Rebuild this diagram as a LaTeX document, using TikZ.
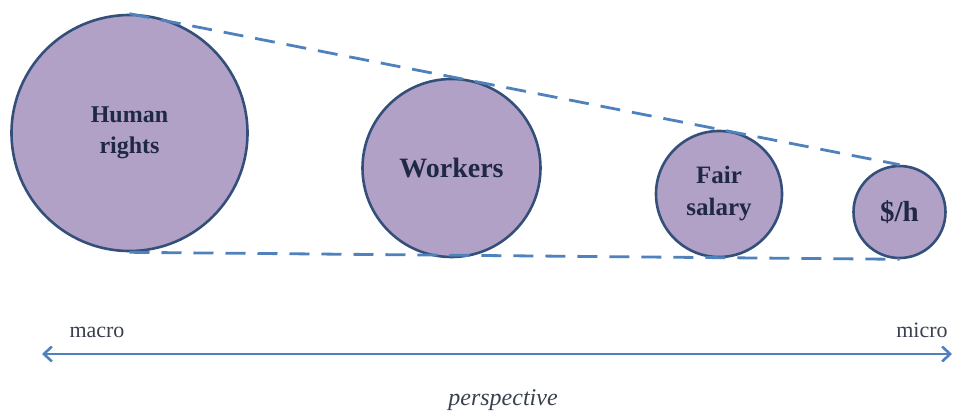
\documentclass[tikz,border=0pt]{standalone}
\usepackage{fontspec}
\setmainfont{Liberation Serif}
\usetikzlibrary{arrows.meta}
\definecolor{bubblefill}{HTML}{B2A1C7}
\definecolor{bubbleedge}{HTML}{34507A}
\definecolor{bubbletext}{HTML}{1F2846}
\definecolor{linkblue}{HTML}{4F81BD}
\definecolor{labelgrey}{HTML}{3A4050}
\tikzset{
  bubble/.style={circle, fill=bubblefill, draw=bubbleedge, line width=2.6pt, inner sep=0pt,
    text=bubbletext, font=\bfseries, align=center},
  tangent/.style={draw=linkblue, line width=2.8pt, dash pattern=on 20pt off 12pt},
  axislabel/.style={text=labelgrey, inner sep=0pt, anchor=base},
  axis/.style={draw=linkblue, line width=2.6pt, {Straight Barb[length=8pt,width=15pt,line width=2.6pt]}-{Straight Barb[length=8pt,width=15pt,line width=2.6pt]}}
}
\begin{document}
\begin{tikzpicture}[x=1pt,y=-1pt]
\useasboundingbox (0,0) rectangle (956,418);
\node[bubble, minimum size=236pt, font=\bfseries\fontsize{24}{31}\selectfont] (hr) at (129.5,133) {Human\\rights};
\node[bubble, minimum size=178pt, font=\bfseries\fontsize{28}{32}\selectfont] (wk) at (451.5,168) {Workers};
\node[bubble, minimum size=126pt, font=\bfseries\fontsize{25}{32}\selectfont] (fs) at (719,194) {Fair\\salary};
\node[bubble, minimum size=92pt, font=\bfseries\fontsize{29}{32}\selectfont] (dh) at (899.5,212) {\$/h};
\draw[tangent] (hr.north) -- (dh.north);
\draw[tangent] (hr.south) -- (dh.south);
\coordinate (left) at (42,354);
\coordinate (right) at (952,354);
\draw[axis] (left) -- (right);
\node[axislabel, font=\fontsize{22}{26}\selectfont] (macro) at (97,337) {macro};
\node[axislabel, font=\fontsize{22}{26}\selectfont] (micro) at (922,337) {micro};
\node[axislabel, font=\itshape\fontsize{24}{26}\selectfont] (persp) at (503,405) {perspective};
\end{tikzpicture}
\end{document}
